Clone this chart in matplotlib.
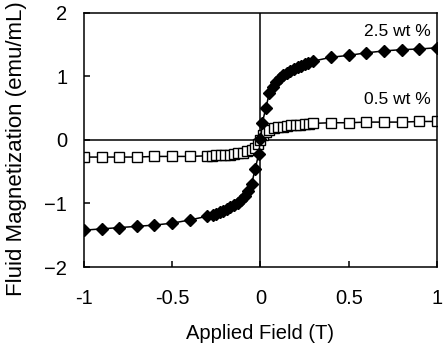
import numpy as np
import matplotlib
matplotlib.use("Agg")
import matplotlib.pyplot as plt

plt.rcParams['font.family'] = ['Liberation Sans', 'DejaVu Sans']

# 2.5 wt % (filled diamonds)
x_25 = [-1.0, -0.9, -0.8, -0.7, -0.6, -0.5, -0.4, -0.3, -0.27, -0.25, -0.23, -0.21,
        -0.19, -0.17, -0.15, -0.13, -0.11, -0.09, -0.07, -0.05, -0.03, -0.01, 0.0,
        0.01, 0.03, 0.05, 0.07, 0.09, 0.11, 0.13, 0.15, 0.17, 0.19, 0.21, 0.23,
        0.25, 0.27, 0.3, 0.4, 0.5, 0.6, 0.7, 0.8, 0.9, 1.0]
y_25 = [-1.42, -1.40, -1.38, -1.36, -1.34, -1.31, -1.26, -1.20, -1.18, -1.16, -1.14, -1.12,
        -1.09, -1.06, -1.03, -0.99, -0.94, -0.88, -0.80, -0.69, -0.46, -0.22, 0.02,
        0.26, 0.50, 0.73, 0.83, 0.91, 0.97, 1.02, 1.06, 1.09, 1.12, 1.15, 1.17,
        1.19, 1.21, 1.24, 1.30, 1.33, 1.37, 1.40, 1.42, 1.43, 1.45]

# 0.5 wt % (open squares)
x_05 = [-1.0, -0.9, -0.8, -0.7, -0.6, -0.5, -0.4, -0.3, -0.275, -0.25, -0.225, -0.2,
        -0.175, -0.15, -0.125, -0.1, -0.075, -0.05, -0.03, -0.015, 0.0,
        0.015, 0.03, 0.05, 0.075, 0.1, 0.125, 0.15, 0.175, 0.2, 0.225, 0.25, 0.275,
        0.3, 0.4, 0.5, 0.6, 0.7, 0.8, 0.9, 1.0]
y_05 = [-0.27, -0.27, -0.27, -0.27, -0.26, -0.26, -0.26, -0.25, -0.25, -0.245, -0.24, -0.235,
        -0.23, -0.22, -0.21, -0.20, -0.18, -0.16, -0.12, -0.06, 0.0,
        0.07, 0.13, 0.16, 0.18, 0.20, 0.21, 0.22, 0.23, 0.235, 0.24, 0.245, 0.25,
        0.26, 0.27, 0.27, 0.28, 0.28, 0.28, 0.29, 0.29]

x_ticks = [-1, -0.5, 0, 0.5, 1]
x_ticklabels = ['-1', '-0.5', '0', '0.5', '1']
y_ticks = [-2, -1, 0, 1, 2]

fig = plt.figure(figsize=(4.46, 3.45), dpi=100)
ax = fig.add_axes([0.188, 0.226, 0.792, 0.737])

ax.axhline(0, color='black', lw=1.1, zorder=1)
ax.axvline(0, color='black', lw=1.1, zorder=1)

ax.plot(x_05, y_05, color='black', lw=1.1, marker='s', markersize=6.5,
        markerfacecolor='white', markeredgecolor='black', markeredgewidth=1.0, zorder=2)
ax.plot(x_25, y_25, color='black', lw=1.1, marker='D', markersize=6,
        markerfacecolor='black', markeredgecolor='black', zorder=3)

ax.text(0.965, 1.70, '2.5 wt %', ha='right', va='center', fontsize=12.5)
ax.text(0.965, 0.63, '0.5 wt %', ha='right', va='center', fontsize=12.5)

ax.set_xlim(-1, 1)
ax.set_ylim(-2, 2)
ax.set_xticks(x_ticks)
ax.set_xticklabels(x_ticklabels)
ax.set_yticks(y_ticks)
ax.tick_params(direction='in', length=4, width=1.1, labelsize=14.5)
ax.tick_params(axis='x', pad=16)
ax.tick_params(axis='y', pad=12)
for s in ax.spines.values():
    s.set_linewidth(1.1)

ax.set_xlabel('Applied Field (T)', fontsize=14.5)
ax.set_ylabel('Fluid Magnetization (emu/mL)', fontsize=16)
ax.xaxis.set_label_coords(0.5, -0.225)
ax.yaxis.set_label_coords(-0.16, 0.464)

fig.savefig('out.png', dpi=100)
